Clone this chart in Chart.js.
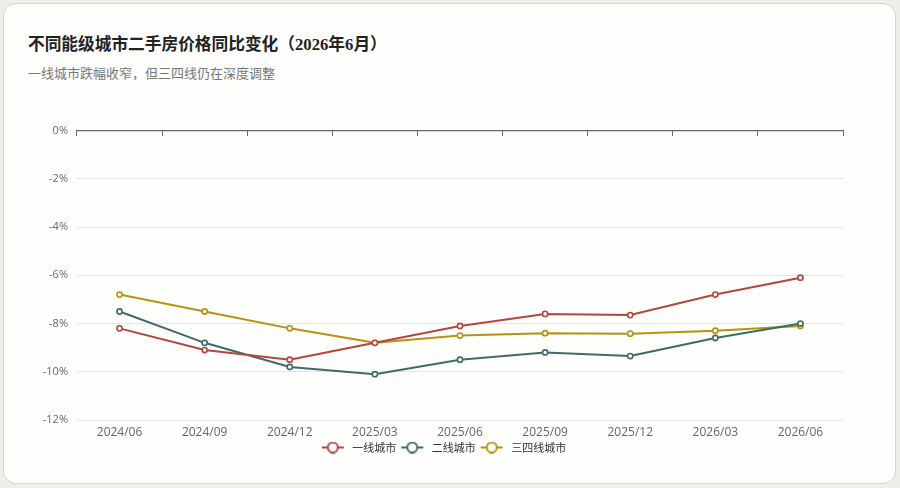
<!DOCTYPE html>
<html>
<head>
<meta charset="utf-8">
<script src="https://cdn.jsdelivr.net/npm/chart.js@4/dist/chart.umd.min.js"></script>
<style>
  html, body { margin: 0; padding: 0; }
  body { width: 900px; height: 488px; background: #efefe9; position: relative; overflow: hidden; }
  .card { position: absolute; left: 3px; top: 3px; width: 891px; height: 479px; background: #fefefd; border: 1px solid #d6d6cf; border-radius: 13px; }
  .title { position: absolute; left: 28px; top: 31px; font-family: "Liberation Serif", "Noto Sans CJK SC", serif; font-weight: 600; font-size: 16.7px; color: #222; }
  .sub { position: absolute; left: 28px; top: 63px; font-family: "Noto Sans CJK SC", sans-serif; font-size: 13px; color: #777; }
  .wrap { position: absolute; left: 0; top: 115px; width: 900px; height: 360px; }
</style>
</head>
<body>
<div class="card"></div>
<div class="title">不同能级城市二手房价格同比变化（2026年6月）</div>
<div class="sub">一线城市跌幅收窄，但三四线仍在深度调整</div>
<div class="wrap"><canvas id="c"></canvas></div>
<script>
const months = ['2024/06', '2024/09', '2024/12', '2025/03', '2025/06', '2025/09', '2025/12', '2026/03', '2026/06'];
const tier1 = [-8.2, -9.1, -9.5, -8.8, -8.1, -7.6, -7.65, -6.8, -6.1];
const tier2 = [-7.5, -8.8, -9.8, -10.1, -9.5, -9.2, -9.35, -8.6, -8.0];
const tier34 = [-6.8, -7.5, -8.2, -8.8, -8.5, -8.4, -8.42, -8.3, -8.1];
const seriesNames = ['一线城市', '二线城市', '三四线城市'];
const seriesColors = ['#b5463e', '#3f6b67', '#b8920f'];

// legend icon: short line with a hollow circle, a little blank room round it
function legendIcon(color) {
    const r = window.devicePixelRatio || 1;
    const cv = document.createElement('canvas');
    cv.width = 27 * r; cv.height = 12 * r;
    cv.style.width = '27px'; cv.style.height = '12px';
    const g = cv.getContext('2d');
    g.scale(r, r);
    g.strokeStyle = color;
    g.lineWidth = 2;
    g.beginPath(); g.moveTo(2, 6); g.lineTo(24, 6); g.stroke();
    g.fillStyle = '#fff';
    g.beginPath(); g.arc(13, 6, 5, 0, Math.PI * 2); g.fill(); g.stroke();
    return cv;
}

const sets = [tier1, tier2, tier34].map((d, i) => ({
    label: seriesNames[i],
    data: d,
    borderColor: seriesColors[i],
    backgroundColor: seriesColors[i],
    borderWidth: 2,
    tension: 0,
    pointRadius: 2.6,
    pointBorderWidth: 1.6,
    pointBackgroundColor: '#fff',
    pointBorderColor: seriesColors[i],
    pointStyle: 'circle'
}));

const icons = seriesColors.map(legendIcon);

new Chart(document.getElementById('c'), {
    type: 'line',
    data: { labels: months, datasets: sets },
    options: {
        responsive: true,
        maintainAspectRatio: false,
        animation: false,
        layout: { padding: { left: 20, right: 34, top: 15, bottom: 12 } },
        plugins: {
            tooltip: { enabled: false },
            legend: {
                position: 'bottom',
                labels: {
                    font: { family: 'Noto Sans CJK SC', size: 11 },
                    color: '#333',
                    usePointStyle: true,
                    pointStyleWidth: 27,
                    boxHeight: 12,
                    padding: 3,
                    generateLabels: (chart) => chart.data.datasets.map((ds, i) => ({
                        text: ds.label,
                        pointStyle: icons[i],
                        fillStyle: ds.borderColor,
                        strokeStyle: ds.borderColor,
                        fontColor: '#333',
                        lineWidth: 0,
                        hidden: false,
                        datasetIndex: i
                    }))
                }
            }
        },
        scales: {
            x: {
                offset: true,
                afterFit: (s) => { s.height = 19; },
                grid: { display: false, drawTicks: false },
                border: { display: false },
                ticks: { color: '#666', font: { family: 'Open Sans', size: 12 }, padding: 5, maxRotation: 0 }
            },
            x0: {
                type: 'category',
                position: { y: 0 },
                offset: true,
                grid: { offset: true, drawOnChartArea: false, drawTicks: true, tickLength: 5, color: '#666', lineWidth: 1 },
                border: { display: true, color: '#666', width: 1.2 },
                ticks: { display: false }
            },
            y: {
                min: -12,
                max: 0,
                afterFit: (s) => { s.width = 57; },
                grid: { color: '#e6e6e6', drawTicks: false },
                border: { display: false },
                ticks: { stepSize: 2, padding: 9, color: '#666', font: { family: 'Open Sans', size: 11 }, callback: (v) => v + '%' }
            },
            // empty right axis, only keeps the right margin so the legend sits where the reference has it
            yr: {
                position: 'right',
                min: -12,
                max: 0,
                afterFit: (s) => { s.width = 23; },
                grid: { drawOnChartArea: false, drawTicks: false },
                border: { display: false },
                ticks: { display: false }
            }
        }
    }
});
</script>
</body>
</html>
